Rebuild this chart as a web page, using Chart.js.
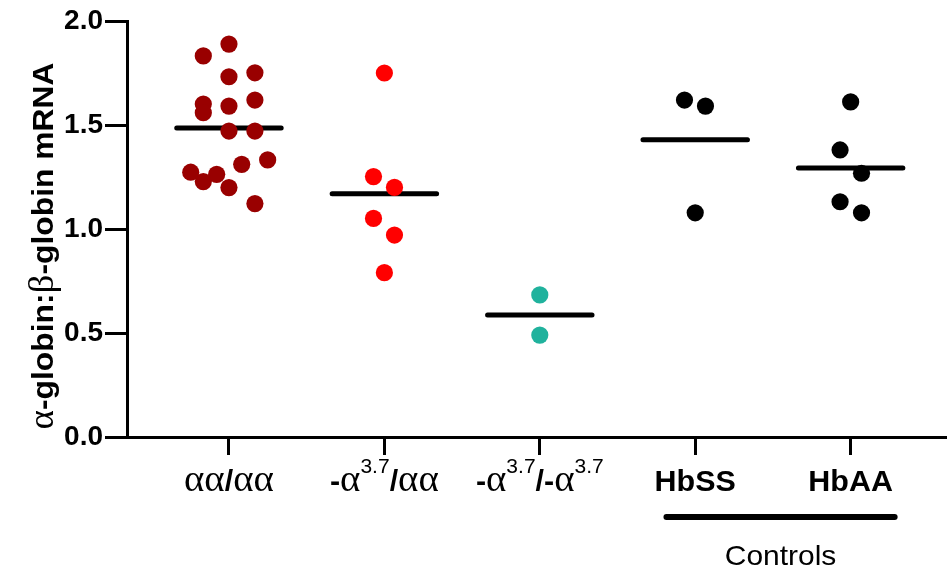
<!DOCTYPE html>
<html>
<head>
<meta charset="utf-8">
<script src="https://cdn.jsdelivr.net/npm/chart.js@4.4.1/dist/chart.umd.min.js"></script>
<style>
  body { margin: 0; background: #fff; }
  canvas { display: block; }
</style>
</head>
<body>
<canvas id="grafico" width="947" height="569"></canvas>
<script>
// categorias del eje x (^ marca superindice)
const categorias = ["αα/αα", "-α^3.7/αα", "-α^3.7/-α^3.7", "HbSS", "HbAA"];
const tituloY = "α-globin:β-globin mRNA";
const rotuloControles = "Controls";
const ticksY = [0, 0.5, 1.0, 1.5, 2.0];

const valoresAA = [1.889, 1.832, 1.751, 1.732, 1.620, 1.601, 1.591, 1.559, 1.471, 1.471, 1.332, 1.311, 1.273, 1.263, 1.228, 1.199, 1.122];
const dispersionAA = [0, -0.165, 0.167, 0, 0.167, -0.165, 0, -0.165, 0, 0.167, 0.249, 0.082, -0.246, -0.079, -0.165, 0, 0.167];

const valoresHet = [1.750, 1.252, 1.200, 1.051, 0.971, 0.790];
const dispersionHet = [0, -0.07, 0.065, -0.07, 0.065, 0];

const valoresHom = [0.683, 0.490];
const dispersionHom = [0, 0];

const valoresHbSS = [1.620, 1.591, 1.078];
const dispersionHbSS = [-0.069, 0.066, 0];

const valoresHbAA = [1.611, 1.380, 1.268, 1.131, 1.078];
const dispersionHbAA = [0, -0.068, 0.07, -0.068, 0.07];

const grupos = [
    { valores: valoresAA, dispersion: dispersionAA, color: "#990000" },
    { valores: valoresHet, dispersion: dispersionHet, color: "#ff0000" },
    { valores: valoresHom, dispersion: dispersionHom, color: "#20b29d" },
    { valores: valoresHbSS, dispersion: dispersionHbSS, color: "#000000" },
    { valores: valoresHbAA, dispersion: dispersionHbAA, color: "#000000" }
];

const media = arr => arr.reduce((a, b) => a + b, 0) / arr.length;
const anchoMedia = 0.336;

const conjuntos = [];
grupos.forEach((g, i) => {
    conjuntos.push({
        type: "scatter",
        data: g.valores.map((v, k) => ({ x: i + g.dispersion[k], y: v })),
        backgroundColor: g.color,
        borderWidth: 0,
        pointRadius: 8.6,
        pointHoverRadius: 8.6,
        order: 1
    });
});
grupos.forEach((g, i) => {
    const m = media(g.valores);
    conjuntos.push({
        type: "line",
        data: [{ x: i - anchoMedia, y: m }, { x: i + anchoMedia, y: m }],
        borderColor: "#000",
        borderWidth: 5,
        borderCapStyle: "round",
        pointRadius: 0,
        order: 2
    });
});

const fuenteSans = "'Liberation Sans', Arial, sans-serif";
const fuenteGriega = "'Liberation Serif', serif";

function trozos(texto) {
    const res = [];
    let i = 0;
    while (i < texto.length) {
        const c = texto[i];
        if (c === "^") {
            let j = i + 1;
            while (j < texto.length && /[0-9.]/.test(texto[j])) j++;
            res.push({ t: texto.slice(i + 1, j), tipo: "sup" });
            i = j;
        } else if (/[α-ω]/.test(c)) {
            res.push({ t: c, tipo: "griega" });
            i++;
        } else {
            let j = i;
            while (j < texto.length && texto[j] !== "^" && !/[α-ω]/.test(texto[j])) j++;
            res.push({ t: texto.slice(i, j), tipo: "negrita" });
            i = j;
        }
    }
    return res;
}

function dibujarTexto(ctx, texto, tam, escalaGriega, estirar) {
    const partes = trozos(texto);
    const fuentes = {
        negrita: "bold " + tam + "px " + fuenteSans,
        griega: Math.round(tam * escalaGriega) + "px " + fuenteGriega,
        sup: Math.round(tam * 0.7) + "px " + fuenteSans
    };
    let total = 0;
    partes.forEach(p => { ctx.font = fuentes[p.tipo]; p.w = ctx.measureText(p.t).width; total += p.w; });
    ctx.scale(estirar, 1);
    ctx.textAlign = "left";
    ctx.textBaseline = "alphabetic";
    let x = -total / 2;
    partes.forEach(p => {
        ctx.font = fuentes[p.tipo];
        ctx.fillText(p.t, x, p.tipo === "sup" ? -tam * 0.62 : 0);
        x += p.w;
    });
}

const rotulos = {
    id: "rotulos",
    afterDraw(chart) {
        const ctx = chart.ctx;
        const ex = chart.scales.x;
        ctx.save();
        ctx.fillStyle = "#000";
        categorias.forEach((c, i) => {
            ctx.save();
            ctx.translate(ex.getPixelForValue(i), ex.top + 54);
            dibujarTexto(ctx, c, 29, 1.28, 1.05);
            ctx.restore();
        });

        // titulo del eje y
        ctx.save();
        ctx.translate(53, 246);
        ctx.rotate(-Math.PI / 2);
        dibujarTexto(ctx, tituloY, 30, 1.15, 1.06);
        ctx.restore();

        // barra de controles
        const x1 = ex.getPixelForValue(2.815);
        const x2 = ex.getPixelForValue(4.283);
        ctx.strokeStyle = "#000";
        ctx.lineWidth = 6;
        ctx.lineCap = "round";
        ctx.beginPath();
        ctx.moveTo(x1, ex.top + 80);
        ctx.lineTo(x2, ex.top + 80);
        ctx.stroke();

        ctx.save();
        ctx.translate((x1 + x2) / 2, ex.top + 128);
        ctx.scale(1.07, 1);
        ctx.font = "28px " + fuenteSans;
        ctx.textAlign = "center";
        ctx.fillText(rotuloControles, 0, 0);
        ctx.restore();
        ctx.restore();
    }
};

new Chart(document.getElementById("grafico"), {
    type: "scatter",
    data: { datasets: conjuntos },
    options: {
        responsive: false,
        animation: false,
        events: [],
        layout: { autoPadding: false, padding: { top: 21, left: 0, right: 0, bottom: 0 } },
        plugins: {
            legend: { display: false },
            tooltip: { enabled: false }
        },
        scales: {
            x: {
                type: "linear",
                min: -0.656,
                max: 4.62,
                afterBuildTicks: s => { s.ticks = categorias.map((c, i) => ({ value: i })); },
                afterFit: s => { s.height = 132; },
                ticks: { display: false },
                border: { color: "#000", width: 3 },
                grid: {
                    drawOnChartArea: false,
                    drawTicks: true,
                    tickLength: 18,
                    tickWidth: 3,
                    tickColor: "#000"
                }
            },
            y: {
                min: 0,
                max: 2,
                afterBuildTicks: s => { s.ticks = ticksY.map(v => ({ value: v })); },
                afterFit: s => { s.width = 127; },
                ticks: {
                    color: "#000",
                    padding: 2,
                    font: { family: fuenteSans, size: 28, weight: "bold" },
                    callback: v => v.toFixed(1)
                },
                border: { color: "#000", width: 3 },
                grid: {
                    drawOnChartArea: false,
                    drawTicks: true,
                    tickLength: 22,
                    tickWidth: 3,
                    tickColor: "#000"
                }
            }
        }
    },
    plugins: [rotulos]
});
</script>
</body>
</html>
